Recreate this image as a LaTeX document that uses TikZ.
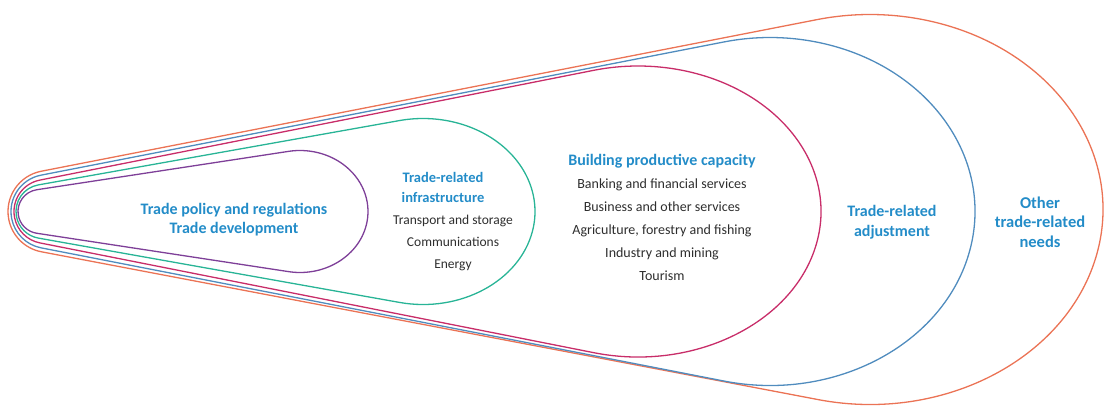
\documentclass[tikz,border=0pt]{standalone}
\usepackage{fontspec}
\setmainfont{Carlito}
\definecolor{tdpurple}{RGB}{126,63,152}
\definecolor{tdteal}{RGB}{40,180,150}
\definecolor{tdmag}{RGB}{200,45,105}
\definecolor{tdblue}{RGB}{80,140,190}
\definecolor{tdorange}{RGB}{235,115,85}
\definecolor{tdtext}{RGB}{35,140,200}
% one step of the tangent solve; #1 = +1 (upper) or -1 (lower)
\newcommand\tditer[1]{%
  \pgfmathsetmacro\tdRp{\tdR-(#1)*\tde*\tdc}%
  \pgfmathsetmacro\tdB{2*\tdD*\tdRp}%
  \pgfmathsetmacro\tdC{\tdRp*\tdRp-\tdb*\tdb}%
  \pgfmathsetmacro\tds{(-\tdB+sqrt(\tdB*\tdB-4*\tdA*\tdC))/(2*\tdA)}%
  \pgfmathsetmacro\tdc{sqrt(1-\tds*\tds)}%
}
% #1 style, #2 tip x, #3 nose radius, #4 ellipse centre x, #5 x radius, #6 y radius, #7 ellipse centre raised by
\newcommand\tdshape[7]{%
  \pgfmathsetmacro\tdNx{#2+#3}%
  \pgfmathsetmacro\tdD{(#4-\tdNx)/100}%
  \pgfmathsetmacro\tdR{#3/100}%
  \pgfmathsetmacro\tda{#5/100}%
  \pgfmathsetmacro\tdb{#6/100}%
  \pgfmathsetmacro\tde{#7/100}%
  \pgfmathsetmacro\tdA{\tdD*\tdD-\tda*\tda+\tdb*\tdb}%
  \def\tdc{1}\tditer{1}\tditer{1}\tditer{1}\tditer{1}%
  \let\tdsU\tds \let\tdcU\tdc
  \def\tdc{1}\tditer{-1}\tditer{-1}\tditer{-1}\tditer{-1}%
  \let\tdsL\tds \let\tdcL\tdc
  \pgfmathsetmacro\tdthU{asin(\tdsU)}%
  \pgfmathsetmacro\tdthL{asin(\tdsL)}%
  \pgfmathsetmacro\tdtU{atan2(\tdb*\tdcU,-\tda*\tdsU)}%
  \pgfmathsetmacro\tdtL{atan2(\tdb*\tdcL,-\tda*\tdsL)}%
  \draw[#1] ({\tdNx-#3*\tdsU},{\tdY+#3*\tdcU})
    arc[start angle={90+\tdthU}, end angle={270-\tdthL}, radius=#3]
    -- ({#4+#5*cos(\tdtL)},{\tdY+#7-#6*sin(\tdtL)})
    arc[start angle={-\tdtL}, end angle={\tdtU}, x radius=#5, y radius=#6]
    -- cycle;
}
\def\tdY{195.5}
\begin{document}
\begin{tikzpicture}[x=1pt,y=1pt,
  ring/.style={line width=1.3pt},
  head/.style={font=\fontsize{16}{19}\selectfont\bfseries, text=tdtext, align=center, inner sep=0pt},
  body/.style={font=\fontsize{14}{22}\selectfont, text=black!82, align=center, inner sep=0pt}]
\useasboundingbox (0,0) rectangle (1104,407);
\tdshape{ring,tdorange}{8}{41}{870}{233}{195}{2}
\tdshape{ring,tdblue}{11}{37}{770}{205}{174}{0}
\tdshape{ring,tdmag}{14}{32}{638}{183}{145.5}{0}
\tdshape{ring,tdteal}{16}{27}{423}{112}{93}{0}
\tdshape{ring,tdpurple}{18}{22}{300}{68}{61}{0}
\node[head] (policy) at (234,{407-220}) {Trade policy and regulations\\Trade development};
\node[head, font=\fontsize{14.5}{20}\selectfont\bfseries] (infrahead) at (443,{407-187}) {Trade-related\\infrastructure};
\node[body, font=\fontsize{13.5}{22}\selectfont] (infra) at (453,{407-243}) {Transport and storage\\Communications\\Energy};
\node[head] (buildhead) at (662,{407-161}) {Building productive capacity};
\node[body, font=\fontsize{14}{23}\selectfont] (build) at (662,{407-230}) {Banking and financial services\\Business and other services\\Agriculture, forestry and fishing\\Industry and mining\\Tourism};
\node[head, font=\fontsize{16}{20}\selectfont\bfseries] (adjust) at (892,{407-222}) {Trade-related\\adjustment};
\node[head, font=\fontsize{16.5}{19.5}\selectfont\bfseries] (other) at (1040,{407-222}) {Other\\trade-related\\needs};
\end{tikzpicture}
\end{document}
